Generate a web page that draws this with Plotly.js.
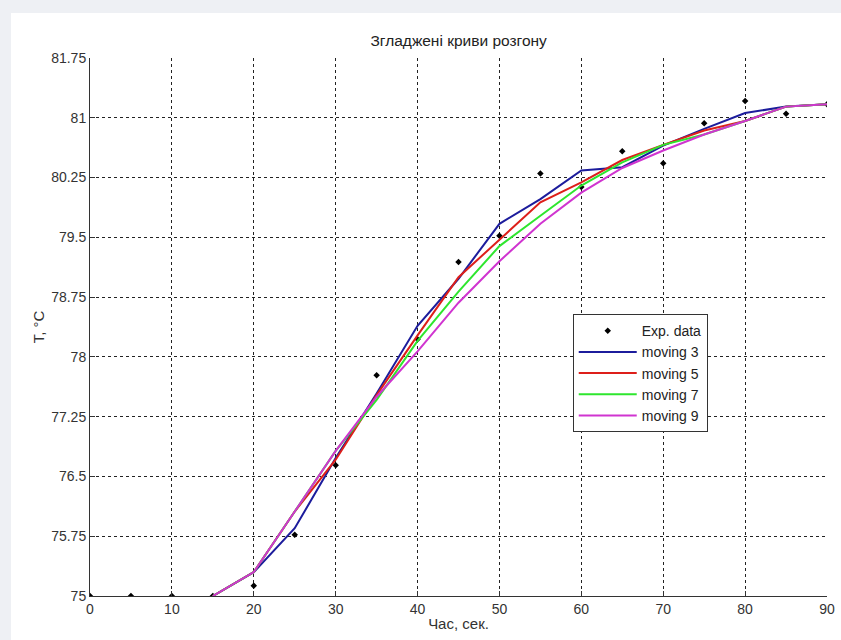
<!DOCTYPE html>
<html>
<head>
<meta charset="utf-8">
<script src="https://cdn.plot.ly/plotly-3.0.1.min.js"></script>
<style>html,body{margin:0;padding:0;background:#eef0f4;}#chart{width:841px;height:640px;}</style>
</head>
<body>
<div id="chart"></div>
<script>
// Experimental data
const timeExp = [0, 5, 10, 15, 20, 25, 30, 35, 40, 45, 50, 55, 60, 65, 70, 75, 80, 85, 90];
const tempExp = [75, 75, 75, 75, 75.13, 75.77, 76.64, 77.77, 78.22, 79.19, 79.52, 80.30, 80.13, 80.58, 80.43, 80.93, 81.21, 81.05, 81.17];

// Smoothed curves
const timeSmooth = [15, 20, 25, 30, 35, 40, 45, 50, 55, 60, 65, 70, 75, 80, 85, 90];
const moving3 = [75, 75.30, 75.85, 76.73, 77.54, 78.39, 78.98, 79.67, 79.98, 80.34, 80.38, 80.65, 80.86, 81.06, 81.14, 81.17];
const moving5 = [75, 75.30, 76.06, 76.71, 77.52, 78.27, 79.00, 79.47, 79.94, 80.19, 80.47, 80.66, 80.84, 80.96, 81.14, 81.17];
const moving7 = [75, 75.30, 76.06, 76.82, 77.46, 78.20, 78.82, 79.39, 79.77, 80.15, 80.44, 80.66, 80.79, 80.96, 81.14, 81.17];
const moving9 = [75, 75.30, 76.06, 76.82, 77.50, 78.07, 78.68, 79.20, 79.67, 80.06, 80.37, 80.59, 80.79, 80.96, 81.14, 81.17];

const xTicks = [0, 10, 20, 30, 40, 50, 60, 70, 80, 90];
const yTicks = [75, 75.75, 76.5, 77.25, 78, 78.75, 79.5, 80.25, 81, 81.75];
const yTickText = ['75', '75.75', '76.5', '77.25', '78', '78.75', '79.5', '80.25', '81', '81.75'];

const seriesNames = ['moving 3', 'moving 5', 'moving 7', 'moving 9'];
const seriesColors = ['#1c1c9c', '#dd1f1a', '#2ee62e', '#d034d0'];
const seriesValues = [moving3, moving5, moving7, moving9];

const traces = [{
  x: timeExp, y: tempExp, name: 'Exp. data', type: 'scatter', mode: 'markers',
  marker: {symbol: 'diamond', size: 5, color: '#000000'}
}];
seriesValues.forEach((vals, i) => {
  traces.push({
    x: timeSmooth, y: vals, name: seriesNames[i], type: 'scatter', mode: 'lines',
    line: {color: seriesColors[i], width: 2}
  });
});

const gridStyle = {color: '#222222', dash: '3px,3px'};

const layout = {
  width: 841, height: 640,
  paper_bgcolor: '#eef0f4',
  plot_bgcolor: '#ffffff',
  font: {family: 'Liberation Sans, Arial, sans-serif', size: 14, color: '#222222'},
  margin: {l: 90, r: 14, t: 58, b: 44},
  title: {text: 'Згладжені криви розгону', x: 0.5454, xanchor: 'center', y: 0.936, yanchor: 'middle', font: {size: 15.5, color: '#222222'}},
  xaxis: {
    range: [0, 90], tickvals: xTicks, ticktext: xTicks.map(String),
    showgrid: true, gridcolor: gridStyle.color, griddash: gridStyle.dash, gridwidth: 1,
    showline: true, linecolor: '#333333', linewidth: 1, mirror: false,
    ticks: 'inside', ticklen: 5, tickcolor: '#333333', zeroline: false,
    tickfont: {size: 14, color: '#333333'},
    title: {text: 'Час, сек.', font: {size: 15, color: '#333333'}, standoff: 2}
  },
  yaxis: {
    range: [75, 81.75], tickvals: yTicks, ticktext: yTickText,
    showgrid: true, gridcolor: gridStyle.color, griddash: gridStyle.dash, gridwidth: 1,
    showline: true, linecolor: '#333333', linewidth: 1, mirror: false,
    ticks: 'inside', ticklen: 5, tickcolor: '#333333', zeroline: false,
    tickfont: {size: 14, color: '#333333'},
    title: {text: 'T, °C', font: {size: 15, color: '#333333'}, standoff: 2}
  },
  legend: {
    x: 0.655, y: 0.524, xanchor: 'left', yanchor: 'top',
    bgcolor: '#ffffff', bordercolor: '#333333', borderwidth: 1,
    font: {size: 14, color: '#222222'}, tracegroupgap: 0, itemwidth: 58
  },
  shapes: [{
    type: 'rect', xref: 'paper', yref: 'paper', layer: 'below',
    x0: -0.1072, x1: 1.02, y0: -0.09, y1: 1.0836,
    fillcolor: '#ffffff', line: {width: 0}
  }],
  showlegend: true
};

Plotly.newPlot('chart', traces, layout, {displayModeBar: false, staticPlot: true});
</script>
</body>
</html>
